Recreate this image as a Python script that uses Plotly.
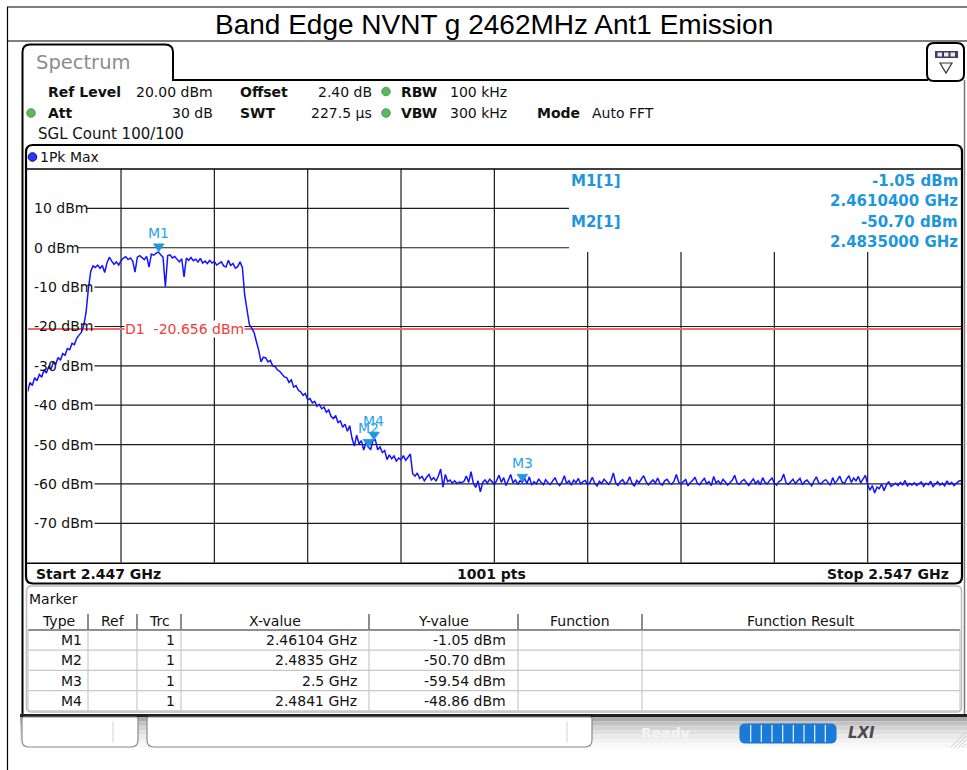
import numpy as np
import plotly.graph_objects as go

W, H = 967, 770

# ---------------- data ----------------
TITLE = "Band Edge NVNT g 2462MHz Ant1 Emission"
START_GHZ = 2.447
STOP_GHZ = 2.547
STEP_GHZ = 0.00025
REF_LEVEL_DBM = 20.0
BOTTOM_DBM = -80.0
LEVEL_TICKS = [10, 0, -10, -20, -30, -40, -50, -60, -70]
LEVEL_TICK_LABELS = ["10 dBm", "0 dBm", "-10 dBm", "-20 dBm", "-30 dBm",
                     "-40 dBm", "-50 dBm", "-60 dBm", "-70 dBm"]
FREQ_GRID_GHZ = [2.457, 2.467, 2.477, 2.487, 2.497, 2.507, 2.517, 2.527, 2.537]
D1_DBM = -20.656
D1_LABEL = "D1  -20.656 dBm"

TRACE_DBM = [
    -36.5, -34.2, -35.0, -33.0, -33.8, -32.2, -32.9, -31.0, -31.8, -30.2,
    -30.9, -29.0, -29.6, -27.9, -28.6, -26.9, -27.3, -25.6, -25.9, -24.3,
    -24.6, -23.0, -22.2, -21.5, -19.8, -16.5, -10.5, -6.0,
    -4.6, -5.0, -4.4, -5.2, -4.5, -6.3, -3.8, -2.4, -3.4, -4.2,
    -3.6, -4.4, -3.3, -2.6, -2.3, -3.0, -2.6, -3.4, -6.2, -2.4,
    -2.0, -2.6, -3.0, -2.2, -4.9, -1.6, -1.9, -1.4, -1.05, -1.8,
    -2.4, -9.9, -2.0, -1.8, -2.6, -2.2, -3.0, -3.6, -2.8, -7.4,
    -2.6, -3.2, -2.5, -3.3, -2.9, -3.6, -2.7, -3.9, -3.4, -4.0,
    -3.2, -3.9, -3.5, -4.4, -4.0, -3.6, -4.6, -4.9, -3.2, -4.5,
    -4.0, -5.2, -4.8, -3.6, -5.0, -12.0,
    -15.8, -19.5, -20.4, -21.5, -23.8, -26.0,
    -29.0, -27.8, -28.0, -29.0, -28.6, -30.0, -30.2, -31.0, -31.4, -32.0,
    -32.8, -33.0, -34.2, -33.6, -35.4, -35.0, -36.2, -36.6, -37.5, -37.0,
    -38.6, -38.3, -39.4, -39.0, -40.3, -39.8, -40.9, -40.5, -41.8, -41.2,
    -42.8, -43.4, -42.6, -44.4, -44.0, -45.6, -44.8, -46.6, -45.2, -48.4,
    -50.4, -47.6, -49.8, -49.0, -51.4, -49.4, -50.7, -51.2, -48.9, -48.8,
    -51.3, -50.6, -52.0, -51.5, -53.8, -52.6, -53.6, -52.9, -54.2, -53.4,
    -53.9, -52.8, -54.0, -53.2, -52.4,
    -57.4, -58.0, -57.2, -58.6, -58.1, -59.2, -58.3, -57.6, -59.0, -58.4,
    -59.3, -58.0, -56.2, -60.8, -57.6,
    -59.4, -59.0, -59.8, -59.2, -59.9, -59.5, -59.7, -59.3, -58.0, -59.6,
    -56.9, -59.8, -60.9, -59.2, -62.0, -59.6, -59.0, -59.8, -58.8, -59.4,
    -60.2, -59.1, -57.8, -59.6, -58.4, -60.4, -59.0, -57.6, -59.8, -58.9,
    -60.1, -59.2, -59.54, -58.6, -59.9, -58.2, -60.3, -59.4, -60.0, -58.7,
    -59.6, -60.2, -58.9, -59.7, -60.1, -59.3, -58.4, -59.8, -60.4, -59.5,
    -57.9, -59.9, -59.2, -60.3, -59.0, -59.7, -58.6, -60.0, -59.4, -59.1,
    -60.2, -59.6, -58.3, -59.8, -60.5, -59.3, -59.9, -58.8, -59.5, -60.1,
    -59.2, -57.2, -59.7, -60.4, -59.4, -58.9, -60.0, -59.5, -58.2, -59.8,
    -60.6, -59.1, -59.7, -58.7, -57.9, -59.4, -60.2, -59.6, -59.0, -59.8,
    -58.5, -59.9, -60.3, -59.2, -58.8, -59.7, -60.1, -59.3, -57.6, -59.5,
    -60.0, -59.4, -58.9, -60.5, -59.6, -59.1, -58.3, -59.8, -60.2, -59.3,
    -58.6, -59.9, -59.4, -60.4, -58.1, -59.7, -59.2, -60.0, -58.8, -59.5,
    -60.3, -59.6, -59.0, -57.8, -59.7, -60.1, -59.3, -58.9, -59.8, -60.4,
    -59.5, -58.7, -59.9, -59.2, -60.2, -58.4, -59.6, -60.0, -59.1, -58.5,
    -59.8, -60.3, -59.4, -59.0, -57.5, -59.7, -60.1, -59.5, -58.8, -59.9,
    -59.3, -58.6, -60.2, -59.4, -59.0, -59.8, -60.5, -59.2, -58.2, -59.7,
    -60.0, -59.3, -58.9, -59.6, -60.3, -58.4, -59.8, -59.1, -58.0, -59.5,
    -59.9, -58.7, -57.9, -59.6, -58.5, -59.2, -58.1, -59.7, -58.6, -57.8,
    -60.2, -61.6, -60.4, -62.3, -60.8, -61.2, -60.0, -61.7, -60.3, -59.4,
    -60.6, -60.1, -59.8, -60.4, -59.6, -60.2, -59.1, -60.5, -59.9, -60.3,
    -59.7, -60.4, -60.0, -59.5, -60.6, -59.8, -60.2, -59.3, -60.7, -59.9,
    -59.4, -60.3, -59.8, -60.5, -59.2, -60.1, -59.6, -60.4, -59.9, -59.3,
    -59.1,
]
assert len(TRACE_DBM) == 401, len(TRACE_DBM)

MARKER_TYPES = ["M1", "M2", "M3", "M4"]
MARKER_REF = ["", "", "", ""]
MARKER_TRC = ["1", "1", "1", "1"]
MARKER_FREQ_GHZ = [2.46104, 2.4835, 2.5, 2.4841]
MARKER_X_TEXT = ["2.46104 GHz", "2.4835 GHz", "2.5 GHz", "2.4841 GHz"]
MARKER_DBM = [-1.05, -50.70, -59.54, -48.86]
INFO_MARKERS = [0, 1]   # markers listed in the upper-right info box

TABLE_COLUMNS = ["Type", "Ref", "Trc", "X-value", "Y-value", "Function", "Function Result"]

SETTINGS_ROW1 = [("Ref Level", "20.00 dBm"), ("Offset", "2.40 dB"), ("RBW", "100 kHz")]
SETTINGS_ROW2 = [("Att", "30 dB"), ("SWT", "227.5 µs"), ("VBW", "300 kHz"), ("Mode", "Auto FFT")]
SGL_TEXT = "SGL Count 100/100"
TRACE_NAME = "1Pk Max"
NPTS_TEXT = "1001 pts"

# ---------------- helpers ----------------
SANS = "DejaVu Sans, Verdana, sans-serif"
BLUE_M = "#1e96dc"

def X(p):
    return p / W

def Y(p):
    return 1 - p / H

shapes, anns = [], []

def pline(x0, y0, x1, y1, color="#000", width=1.0, layer="above"):
    shapes.append(dict(type="line", xref="paper", yref="paper",
                       x0=X(x0), y0=Y(y0), x1=X(x1), y1=Y(y1),
                       line=dict(color=color, width=width), layer=layer))

def prect(x0, y0, x1, y1, fill, line_color=None, width=0, layer="above"):
    shapes.append(dict(type="rect", xref="paper", yref="paper",
                       x0=X(x0), y0=Y(y0), x1=X(x1), y1=Y(y1),
                       fillcolor=fill,
                       line=dict(color=line_color or fill, width=width), layer=layer))

def P(x, y):
    return f"{X(x):.5f},{Y(y):.5f}"

def rpath(x0, y0, x1, y1, rtl, rtr, rbr, rbl, close=True):
    s = "M" + P(x0, y0 + rtl)
    if rtl:
        s += " Q" + P(x0, y0) + " " + P(x0 + rtl, y0)
    s += " L" + P(x1 - rtr, y0)
    if rtr:
        s += " Q" + P(x1, y0) + " " + P(x1, y0 + rtr)
    s += " L" + P(x1, y1 - rbr)
    if rbr:
        s += " Q" + P(x1, y1) + " " + P(x1 - rbr, y1)
    s += " L" + P(x0 + rbl, y1)
    if rbl:
        s += " Q" + P(x0, y1) + " " + P(x0, y1 - rbl)
    if close:
        s += " Z"
    return s

def ppath(path, line_color="#000", width=1.0, fill=None, layer="above"):
    d = dict(type="path", xref="paper", yref="paper", path=path,
             line=dict(color=line_color, width=width), layer=layer)
    if fill:
        d["fillcolor"] = fill
    shapes.append(d)

def circle(cx, cy, r, fill, line_color, width=1):
    shapes.append(dict(type="circle", xref="paper", yref="paper",
                       x0=X(cx - r), x1=X(cx + r), y0=Y(cy + r), y1=Y(cy - r),
                       fillcolor=fill, line=dict(color=line_color, width=width)))

def txt(x, y, s, size=14, color="#111", anchor="left", bold=False,
        family=SANS, bg=None):
    d = dict(x=X(x), y=Y(y), xref="paper", yref="paper",
             text=f"<b>{s}</b>" if bold else s, showarrow=False,
             xanchor=anchor, yanchor="middle", borderpad=0,
             font=dict(size=size, color=color, family=family))
    if bg:
        d["bgcolor"] = bg
    anns.append(d)

# ---------------- geometry (pixels) ----------------
PL, PR, PT, PB = 27.7, 961.0, 169.0, 562.7
def fx(px):  # pixel -> GHz
    return START_GHZ + (px - PL) / (PR - PL) * (STOP_GHZ - START_GHZ)
def ly(py):  # pixel -> dBm
    return REF_LEVEL_DBM - (py - PT) / (PB - PT) * (REF_LEVEL_DBM - BOTTOM_DBM)

INFO_F0 = fx(569)
INFO_L0 = ly(252)

# ---------------- outer document frame + title ----------------
pline(7, 7, 967, 7, width=1.2)
pline(7, 41, 967, 41, width=1.2)
pline(7.5, 7, 7.5, 770, width=1.2)
txt(494, 24.5, TITLE, size=28, color="#000", anchor="center",
    family="Liberation Sans, Arial, sans-serif")

# ---------------- instrument screen ----------------
ppath("M" + P(22.5, 80) + " L" + P(22.5, 52) + " Q" + P(22.5, 44.5) + " " + P(30, 44.5)
      + " L" + P(165, 44.5) + " Q" + P(173, 44.5) + " " + P(173, 52)
      + " L" + P(173, 80) + " L" + P(928, 80), width=2)
txt(35, 62, "Spectrum", size=19.5, color="#8c8c8c")
ppath(rpath(927, 43, 964, 81, 7, 7, 7, 7), width=2, fill="#ffffff")
prect(935, 51, 958, 58, "#3c3c64")
for k in range(3):
    prect(937.5 + k * 6.5, 52.5, 942 + k * 6.5, 56.5, "#e8e8f0")
ppath("M" + P(940, 63) + " L" + P(952, 63) + " L" + P(946, 73) + " Z",
      line_color="#333", width=1.2)
pline(22.5, 80, 22.5, 716, width=2)
pline(964.5, 80, 964.5, 716, color="#777", width=1.5)

# settings header
row1_x = [(47, 214, "right"), (239, 373, "right"), (400, 449, "left")]
for (lab, val), (lx, vx, va) in zip(SETTINGS_ROW1, row1_x):
    txt(lx, 91.5, lab, bold=True)
    txt(vx, 91.5, val, anchor=va)
row2_x = [(47, 214, "right"), (239, 373, "right"), (400, 449, "left"), (536, 591, "left")]
for (lab, val), (lx, vx, va) in zip(SETTINGS_ROW2, row2_x):
    txt(lx, 113, lab, bold=True)
    txt(vx, 113, val, anchor=va)
for cx, cy in [(386, 91.5), (31, 113), (386, 113)]:
    circle(cx, cy, 4.3, "#5cb85c", "#3d8f3d", 0.8)
txt(37, 134, SGL_TEXT, size=15)

# plot frame
ppath(rpath(26, 145, 962, 583.5, 7, 7, 7, 7), width=2.2)
pline(26, PT, 962, PT, width=1.6)
pline(26, PB + 0.5, 962, PB + 0.5, width=1.6)
circle(32.5, 157, 4.3, "#2438ff", "#101060", 1)
txt(39, 157, TRACE_NAME)
txt(35, 574, f"Start {START_GHZ:.3f} GHz", bold=True)
txt(491, 574, NPTS_TEXT, bold=True, anchor="center")
txt(950, 574, f"Stop {STOP_GHZ:.3f} GHz", bold=True, anchor="right")

# ---------------- plot grid (data coordinates) ----------------
GRID = dict(color="#1c1c1c", width=1.2)
for f in FREQ_GRID_GHZ:
    top = INFO_L0 if f > INFO_F0 else REF_LEVEL_DBM
    shapes.append(dict(type="line", xref="x", yref="y", x0=f, x1=f,
                       y0=BOTTOM_DBM, y1=top, line=GRID, layer="below"))
for v, lab in zip(LEVEL_TICKS, LEVEL_TICK_LABELS):
    x_start = fx(35 + 8.5 * len(lab))
    x_end = INFO_F0 if v > INFO_L0 else STOP_GHZ
    shapes.append(dict(type="line", xref="x", yref="y", x0=x_start, x1=x_end,
                       y0=v, y1=v, line=GRID, layer="below"))
    anns.append(dict(x=X(33), y=v, xref="paper", yref="y", text=lab,
                     showarrow=False, xanchor="left", yanchor="middle",
                     borderpad=0, font=dict(size=14, color="#111", family=SANS)))

# display line D1
shapes.append(dict(type="line", xref="x", yref="y", x0=START_GHZ, x1=STOP_GHZ,
                   y0=D1_DBM, y1=D1_DBM, line=dict(color="#f26b6b", width=2),
                   layer="below"))
anns.append(dict(x=fx(124), y=D1_DBM, xref="x", yref="y", text=D1_LABEL,
                 showarrow=False, xanchor="left", yanchor="middle", borderpad=0,
                 bgcolor="#ffffff", font=dict(size=14, color="#f23c3c", family=SANS)))

# ---------------- trace ----------------
freqs = START_GHZ + STEP_GHZ * np.arange(len(TRACE_DBM))
fig = go.Figure()
fig.add_trace(go.Scatter(x=freqs, y=TRACE_DBM, mode="lines",
                         line=dict(color="#1414ff", width=1.5),
                         hoverinfo="skip", showlegend=False))

# markers
for name, f, lv in zip(MARKER_TYPES, MARKER_FREQ_GHZ, MARKER_DBM):
    shapes.append(dict(type="path", xref="x", yref="y", xsizemode="pixel",
                       ysizemode="pixel", xanchor=f, yanchor=lv,
                       path="M-5.5,8 L5.5,8 L0,0 Z", fillcolor=BLUE_M,
                       line=dict(color=BLUE_M, width=0.5), layer="above"))
    anns.append(dict(x=f, y=lv, xref="x", yref="y", text=name, showarrow=False,
                     xanchor="center", yanchor="middle", yshift=19, borderpad=0,
                     font=dict(size=14, color="#2aa3e6", family=SANS)))

# marker info box (upper right)
for row, mi in enumerate(INFO_MARKERS):
    y0 = 181 + row * 41
    txt(570, y0, f"{MARKER_TYPES[mi]}[{MARKER_TRC[mi]}]", bold=True, color=BLUE_M,
        size=15)
    txt(959, y0, f"{MARKER_DBM[mi]:.2f} dBm", bold=True, color=BLUE_M, anchor="right",
        size=15)
    txt(959, y0 + 20, f"{MARKER_FREQ_GHZ[mi]:.7f} GHz", bold=True, color=BLUE_M,
        anchor="right", size=15)

# ---------------- marker table ----------------
ppath(rpath(26.5, 586, 961.5, 712, 5, 5, 5, 5), line_color="#bdbdbd", width=1.5)
txt(28, 599, "Marker")
COL_EDGES = [28, 88, 137, 181, 369, 518, 642, 960]
HDR_T, HDR_B = 611, 630
ROW_H = 20.2
for i, c in enumerate(TABLE_COLUMNS):
    cx = (COL_EDGES[i] + COL_EDGES[i + 1]) / 2
    txt(cx, 621, c, anchor="center")
for e in COL_EDGES[1:-1]:
    pline(e, HDR_T + 3, e, HDR_B, color="#505050", width=1.3)
pline(COL_EDGES[0], HDR_B, COL_EDGES[-1], HDR_B, color="#6a6a6a", width=1.6)
nrows = len(MARKER_TYPES)
for r in range(1, nrows + 1):
    pline(COL_EDGES[0], HDR_B + r * ROW_H, COL_EDGES[-1], HDR_B + r * ROW_H,
          color="#c8c8c8", width=1.2)
for e in COL_EDGES:
    pline(e, HDR_B, e, HDR_B + nrows * ROW_H, color="#c8c8c8", width=1.2)
for r in range(nrows):
    yc = HDR_B + (r + 0.5) * ROW_H
    txt(COL_EDGES[1] - 5, yc, MARKER_TYPES[r], anchor="right")
    txt(COL_EDGES[2] - 5, yc, MARKER_REF[r], anchor="right")
    txt(COL_EDGES[3] - 5, yc, MARKER_TRC[r], anchor="right")
    txt(COL_EDGES[4] - 11, yc, MARKER_X_TEXT[r], anchor="right")
    txt(COL_EDGES[5] - 11, yc, f"{MARKER_DBM[r]:.2f} dBm", anchor="right")

# ---------------- status bar ----------------
pline(20, 715.5, 967, 715.5, color="#202020", width=3)
bands = ["#a9a9a9", "#c2c2c2", "#d3d3d3", "#e0e0e0", "#eaeaea", "#f2f2f2", "#f8f8f8"]
for k, c in enumerate(bands):
    prect(20, 717 + k * 4.4, 967, 717 + (k + 1) * 4.4, c)
ppath(rpath(22, 717, 138, 747, 2, 2, 7, 7), line_color="#8a8a8a", width=1.2, fill="#ffffff")
pline(113, 721, 113, 743, color="#e0e0e0", width=1.5)
ppath(rpath(147, 717, 592, 747, 2, 2, 7, 7), line_color="#8a8a8a", width=1.2, fill="#ffffff")
pline(567, 721, 567, 743, color="#e0e0e0", width=1.5)
txt(665, 733, "Ready", bold=True, color="#f4f4f4", anchor="center")
ppath(rpath(740, 724, 836, 743, 5, 5, 5, 5), line_color="#1a74cc", width=1, fill="#1a7ad8")
for k in range(1, 9):
    xs = 740 + k * 96 / 9
    pline(xs, 725, xs, 742, color="#dceaf8", width=1.3)
txt(861, 733, "<i><b>LXI</b></i>", size=15, color="#4a4a4a", anchor="center")
for k in range(4):
    pline(950 + k * 4, 748, 966, 732 + k * 4, color="#d0d0d0", width=1)

# ---------------- layout ----------------
fig.update_layout(
    width=W, height=H,
    margin=dict(l=0, r=0, t=0, b=0),
    paper_bgcolor="#ffffff", plot_bgcolor="rgba(0,0,0,0)",
    xaxis=dict(domain=[X(PL), X(PR)], range=[START_GHZ, STOP_GHZ],
               visible=False, fixedrange=True),
    yaxis=dict(domain=[Y(PB), Y(PT)], range=[BOTTOM_DBM, REF_LEVEL_DBM],
               visible=False, fixedrange=True),
    shapes=shapes, annotations=anns, showlegend=False,
)
fig.write_html("out.html", config={"displayModeBar": False},
               post_script="document.body.style.margin='0px';"
                           "document.body.style.overflow='hidden';")
